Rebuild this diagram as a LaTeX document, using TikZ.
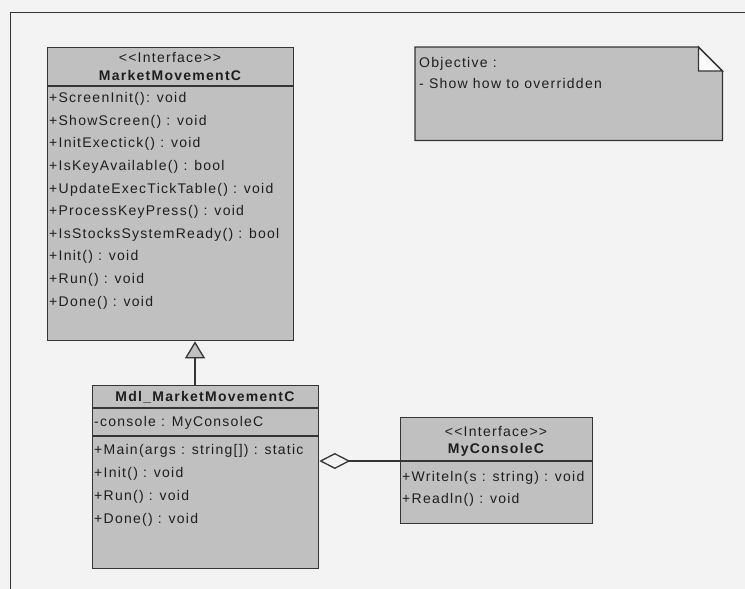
\documentclass[tikz,border=0pt]{standalone}
\usepackage{fontspec}
\setmainfont{Liberation Sans}[LetterSpace=9]
\usetikzlibrary{arrows.meta}
\definecolor{bgc}{HTML}{F3F3F3}
\definecolor{boxc}{HTML}{C0C0C0}
\definecolor{linec}{HTML}{353535}
\definecolor{txtc}{HTML}{1E1E1E}
\definecolor{foldc}{HTML}{FAFAFA}
\begin{document}
\begin{tikzpicture}[x=1pt,y=-1pt,
  umlbox/.style={draw=linec, fill=boxc, line width=1.3pt, rectangle, anchor=north west, inner sep=0pt},
  txt/.style={anchor=west, inner sep=0pt, text=txtc, font=\fontsize{14}{16}\selectfont},
  ctxt/.style={anchor=center, inner sep=0pt, text=txtc, font=\fontsize{14}{16}\selectfont},
  btxt/.style={anchor=center, inner sep=0pt, text=txtc, font=\fontsize{14}{16}\selectfont\bfseries},
  sepline/.style={draw=linec, line width=1.3pt},
  conn/.style={draw=linec, line width=1.3pt}]
\fill[bgc] (0,0) rectangle (745,589);
\useasboundingbox (0,0) rectangle (745,589);
\draw[linec, line width=1pt] (10,589) -- (10,12) -- (745,12);

% --- MarketMovementC
\node[umlbox, minimum width=246pt, minimum height=293pt] (mmc) at (47,47) {};
\node[ctxt] (mmcst) at (170,58) {<{}<Interface>{}>};
\node[btxt] (mmcname) at (170,75) {MarketMovementC};
\coordinate (s1) at (0,86);
\draw[sepline] (mmc.west |- s1) -- (mmc.east |- s1);
\foreach \t [count=\i] in {{+ScreenInit(): void},{+ShowScreen() : void},{+InitExectick() : void},{+IsKeyAvailable() : bool},{+UpdateExecTickTable() : void},{+ProcessKeyPress() : void},{+IsStocksSystemReady() : bool},{+Init() : void},{+Run() : void},{+Done() : void}}
  \node[txt] (mm\i) at (49,{99+22.6*(\i-1)}) {\t};

% --- Mdl_MarketMovementC
\node[umlbox, minimum width=226pt, minimum height=183pt] (mdl) at (92,385) {};
\node[btxt] (mdlname) at (205,397) {Mdl\_MarketMovementC};
\coordinate (s2) at (0,408);
\draw[sepline] (mdl.west |- s2) -- (mdl.east |- s2);
\node[txt] (mdlattr) at (94,423) {-console : MyConsoleC};
\coordinate (s3) at (0,436);
\draw[sepline] (mdl.west |- s3) -- (mdl.east |- s3);
\foreach \t [count=\i] in {{+Main(args : string[]) : static},{+Init() : void},{+Run() : void},{+Done() : void}}
  \node[txt] (md\i) at (94,{451+23*(\i-1)}) {\t};

% --- MyConsoleC
\node[umlbox, minimum width=192pt, minimum height=106pt] (myc) at (400,417) {};
\node[ctxt] (mycst) at (496,431) {<{}<Interface>{}>};
\node[btxt] (mycname) at (496,450) {MyConsoleC};
\coordinate (s4) at (0,461);
\draw[sepline] (myc.west |- s4) -- (myc.east |- s4);
\node[txt] (my1) at (402,478) {+Writeln(s : string) : void};
\node[txt] (my2) at (402,500) {+Readln() : void};

% --- note
\node[anchor=north west, inner sep=0pt, minimum width=307pt, minimum height=93pt] (note) at (415,47) {};
\filldraw[fill=boxc, draw=linec, line width=1.3pt]
  (note.north west) -- ([xshift=-24pt]note.north east) -- ([yshift=-24pt]note.north east)
  -- (note.south east) -- (note.south west) -- cycle;
\filldraw[fill=foldc, draw=linec, line width=1.3pt]
  ([xshift=-24pt]note.north east) -- ([xshift=-24pt,yshift=-24pt]note.north east)
  -- ([yshift=-24pt]note.north east) -- cycle;
\node[txt] (n1) at (419,64) {Objective :};
\node[txt] (n2) at (419,83) {- Show how to overridden};

% --- connectors
\coordinate (tx) at (195,0);
\draw[conn, -{Triangle[length=17pt, width=20pt, fill=boxc]}] (mdl.north -| tx) -- (mmc.south -| tx);
\coordinate (ag) at (0,461);
\draw[conn, {Diamond[length=31pt, width=16pt, fill=bgc]}-] (mdl.east |- ag) -- (myc.west |- ag);
\end{tikzpicture}
\end{document}
